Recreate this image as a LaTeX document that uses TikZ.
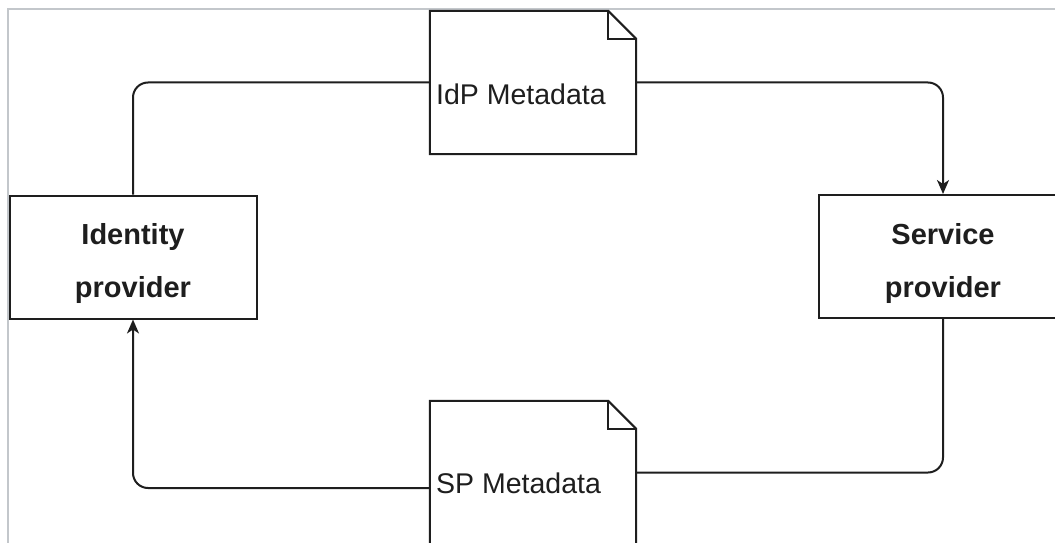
\documentclass[tikz,border=0pt]{standalone}
\usepackage{fontspec}
\setmainfont{Liberation Sans}
\usetikzlibrary{arrows.meta}
\definecolor{frame}{HTML}{C3C7CB}
\definecolor{ink}{HTML}{1E1E1E}
\tikzset{
  box/.style={draw=ink, line width=2pt, rectangle, minimum width=247pt, minimum height=123pt, inner sep=0pt},
  notebox/.style={rectangle, minimum width=206pt, minimum height=143pt, inner sep=0pt},
  notepath/.style={draw=ink, line width=2pt, line join=miter},
  boldlbl/.style={font=\fontsize{29}{52}\selectfont\bfseries, align=center, text=ink, inner sep=0pt},
  notelbl/.style={font=\fontsize{28.5}{34}\selectfont, text=ink, inner sep=0pt, anchor=base west},
  conn/.style={draw=ink, line width=2pt, rounded corners=15pt},
  arr/.style={conn, -{Stealth[length=14pt, width=12pt, inset=4pt]}}
}
\begin{document}
\begin{tikzpicture}[x=1pt, y=-1pt]
\useasboundingbox (0,0) rectangle (1055,543);
\clip (0,0) rectangle (1055,543);
\fill[white] (0,0) rectangle (1055,543);
\draw[frame, line width=2pt] (8,545) -- (8,9) -- (1057,9);

% boxes
\node[box] (idp) at (133,257) {};
\node[boldlbl] (idplbl) at (133,263.5) {Identity\\provider};
\node[box, minimum width=248pt] (sp) at (943,256.5) {};
\node[boldlbl] (splbl) at (943,263.5) {Service\\provider};

% notes
\node[notebox] (idpm) at (533,82.5) {};
\draw[notepath] (idpm.south west) -- (idpm.north west) -- ([xshift=-28pt]idpm.north east) -- ([yshift=-28pt]idpm.north east) -- (idpm.south east) -- cycle;
\draw[notepath] ([xshift=-28pt]idpm.north east) |- ([yshift=-28pt]idpm.north east);
\node[notelbl] (idpmlbl) at (436,104) {IdP Metadata};

\node[notebox] (spm) at (533,472.5) {};
\draw[notepath] (spm.south west) -- (spm.north west) -- ([xshift=-28pt]spm.north east) -- ([yshift=-28pt]spm.north east) -- (spm.south east) -- cycle;
\draw[notepath] ([xshift=-28pt]spm.north east) |- ([yshift=-28pt]spm.north east);
\node[notelbl] (spmlbl) at (436,493) {SP Metadata};

% connectors
\draw[conn] (idp.north) |- (idpm.west);
\draw[arr] (idpm.east) -| (sp.north);
\draw[conn] (sp.south) |- (spm.east);
\coordinate (spmout) at ([yshift=-15.5pt]spm.west);
\draw[arr] (spmout) -| (idp.south);
\end{tikzpicture}
\end{document}
